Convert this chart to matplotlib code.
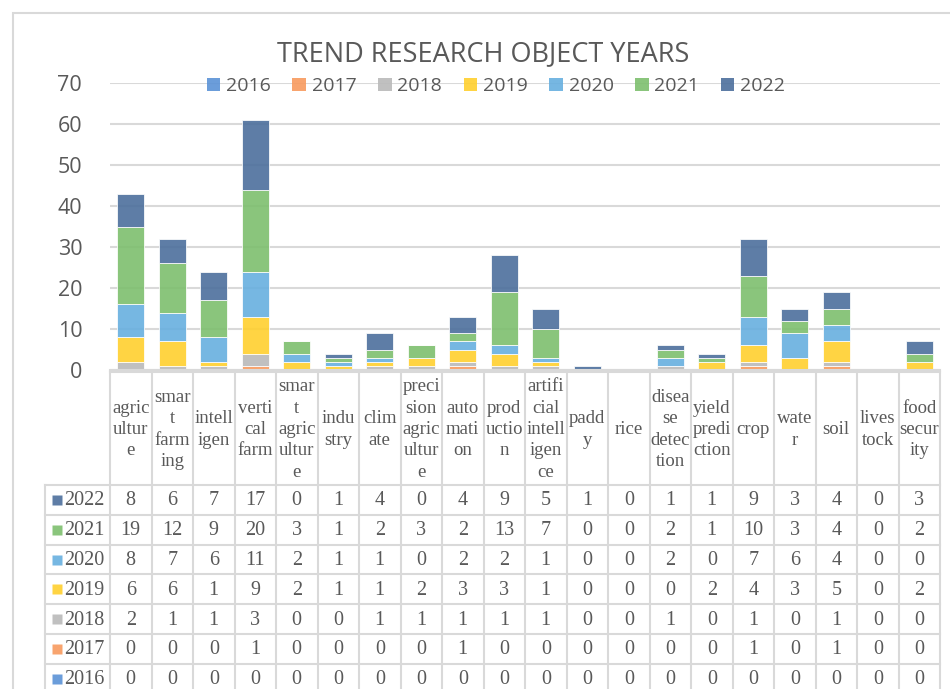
import numpy as np
import matplotlib
matplotlib.use('Agg')
import matplotlib.pyplot as plt
from matplotlib.patches import Rectangle, Patch

# data
categories = ['agriculture', 'smart farming', 'intelligen', 'vertical farm', 'smart agriculture',
              'industry', 'climate', 'precision agriculture', 'automation', 'production',
              'artificial intelligence', 'paddy', 'rice', 'disease detection', 'yield prediction',
              'crop', 'water', 'soil', 'livestock', 'food security']
header_labels = ['agric\nultur\ne', 'smar\nt\nfarm\ning', 'intell\nigen', 'verti\ncal\nfarm',
                 'smar\nt\nagric\nultur\ne', 'indu\nstry', 'clim\nate', 'preci\nsion\nagric\nultur\ne',
                 'auto\nmati\non', 'prod\nuctio\nn', 'artifi\ncial\nintell\nigen\nce', 'padd\ny', 'rice',
                 'disea\nse\ndetec\ntion', 'yield\npredi\nction', 'crop', 'wate\nr', 'soil',
                 'lives\ntock', 'food\nsecur\nity']
years = ['2016', '2017', '2018', '2019', '2020', '2021', '2022']
y2016 = [0, 0, 0, 0, 0, 0, 0, 0, 0, 0, 0, 0, 0, 0, 0, 0, 0, 0, 0, 0]
y2017 = [0, 0, 0, 1, 0, 0, 0, 0, 1, 0, 0, 0, 0, 0, 0, 1, 0, 1, 0, 0]
y2018 = [2, 1, 1, 3, 0, 0, 1, 1, 1, 1, 1, 0, 0, 1, 0, 1, 0, 1, 0, 0]
y2019 = [6, 6, 1, 9, 2, 1, 1, 2, 3, 3, 1, 0, 0, 0, 2, 4, 3, 5, 0, 2]
y2020 = [8, 7, 6, 11, 2, 1, 1, 0, 2, 2, 1, 0, 0, 2, 0, 7, 6, 4, 0, 0]
y2021 = [19, 12, 9, 20, 3, 1, 2, 3, 2, 13, 7, 0, 0, 2, 1, 10, 3, 4, 0, 2]
y2022 = [8, 6, 7, 17, 0, 1, 4, 0, 4, 9, 5, 1, 0, 1, 1, 9, 3, 4, 0, 3]
series = [y2016, y2017, y2018, y2019, y2020, y2021, y2022]
colors = ['#5B92D6', '#F89A5E', '#BABABA', '#FFD02E', '#67AFDF', '#7DBF6E', '#4C6F9C']

txtgrey = '#595959'
linegrey = '#D9D9D9'
sans = ['Open Sans', 'DejaVu Sans']
serif = ['Liberation Serif', 'DejaVu Serif']

W, H = 950, 689
fig = plt.figure(figsize=(9.5, 6.89), dpi=100)

# outer chart border
fig.patches.append(Rectangle((13 / W, -0.1), 1.0, 1 - 13 / H + 0.1, transform=fig.transFigure,
                             fill=False, edgecolor=linegrey, lw=1.5))

x0, x1 = 110, 940
ax = fig.add_axes([x0 / W, 1 - 370 / H, (x1 - x0) / W, (370 - 83) / H])
x = np.arange(len(categories))
bottom = np.zeros(len(categories))
for yr, vals, c in zip(years, series, colors):
    ax.bar(x, vals, 0.66, bottom=bottom, color=c, alpha=0.9, edgecolor='white', lw=0.6,
           label=yr, zorder=2)
    bottom += np.array(vals)

ax.set_xlim(-0.5, len(categories) - 0.5)
ax.set_ylim(0, 70)
ax.set_yticks(np.arange(0, 71, 10))
ax.yaxis.grid(True, color=linegrey, lw=1.5, zorder=0)
ax.set_axisbelow(True)
for s in ['top', 'right', 'left']:
    ax.spines[s].set_visible(False)
ax.spines['bottom'].set_color(linegrey)
ax.spines['bottom'].set_linewidth(1.5)
ax.set_xticks([])
ax.tick_params(axis='y', length=0, pad=20, labelsize=15.5, labelcolor=txtgrey)
for lab in ax.get_yticklabels():
    lab.set_family(sans)

fig.text(0.509, 0.922, 'TREND RESEARCH OBJECT YEARS', ha='center', va='center',
         fontsize=19.5, color=txtgrey, family=sans)

handles = [Patch(facecolor=c, alpha=0.9) for c in colors]
fig.legend(handles, years, loc='center', bbox_to_anchor=(0.522, 0.875), ncol=7, frameon=False,
           handlelength=0.7, handleheight=0.7, handletextpad=0.3, columnspacing=1.1,
           prop={'family': sans, 'size': 14}, labelcolor=txtgrey)

# data table below the chart
top_px, bot_px = 372, 700
axt = fig.add_axes([x0 / W, 1 - bot_px / H, (x1 - x0) / W, (bot_px - top_px) / H])
axt.set_xlim(-0.5, len(categories) - 0.5)
axt.set_ylim(bot_px - top_px, 0)
axt.axis('off')
colw = (x1 - x0) / len(categories)
left_u = -0.5 - (x0 - 45) / colw
head_h = 113
row_h = 29.8
nrows = len(years)
table_bottom = head_h + row_h * nrows
axt.plot([-0.5, len(categories) - 0.5], [0, 0], color=linegrey, lw=1.5, clip_on=False)
for i in range(nrows + 1):
    yy = head_h + row_h * i
    axt.plot([left_u, len(categories) - 0.5], [yy, yy], color=linegrey, lw=1.5, clip_on=False)
for i in range(len(categories) + 1):
    xx = -0.5 + i
    axt.plot([xx, xx], [0, table_bottom], color=linegrey, lw=1.5, clip_on=False)
axt.plot([left_u, left_u], [head_h, table_bottom], color=linegrey, lw=1.5, clip_on=False)

for j, lab in enumerate(header_labels):
    axt.text(j, head_h / 2 + 1, lab, ha='center', va='center', fontsize=13.5, color=txtgrey,
             family=serif, linespacing=1.33)

order = list(range(nrows))[::-1]
for r, k in enumerate(order):
    yc = head_h + row_h * (r + 0.5)
    axt.plot(left_u + 0.3, yc, marker='s', ms=7.5, color=colors[k], alpha=0.9, mec='none',
             clip_on=False)
    axt.text(left_u + 0.47, yc + 1, years[k], ha='left', va='center', fontsize=14.5,
             color=txtgrey, family=serif)
    for j, v in enumerate(series[k]):
        axt.text(j, yc + 1, str(v), ha='center', va='center', fontsize=14.5, color=txtgrey,
                 family=serif)

fig.savefig('out.png', dpi=100)
